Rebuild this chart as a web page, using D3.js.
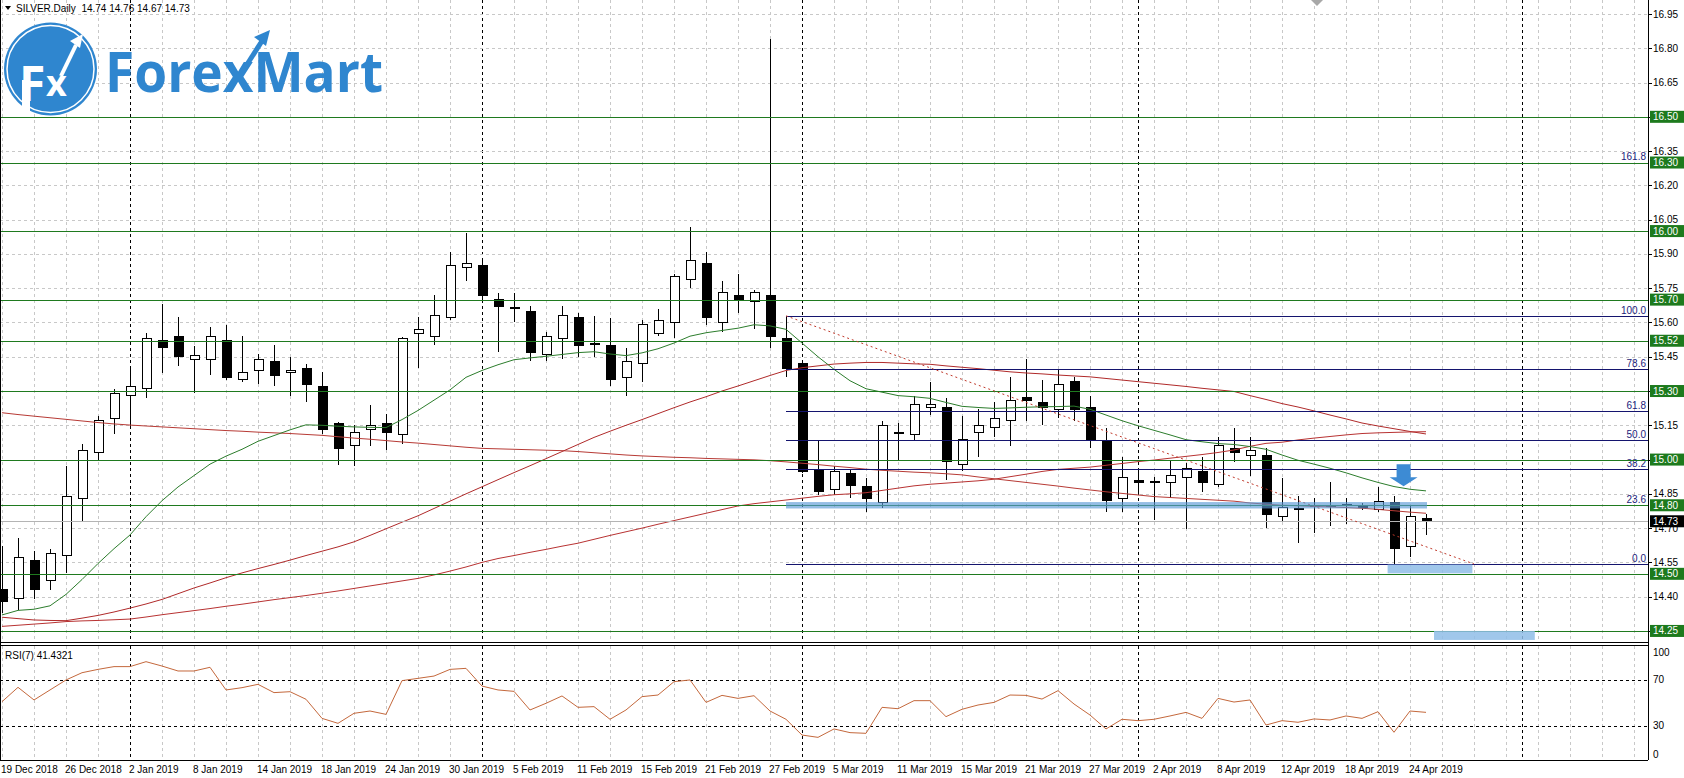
<!DOCTYPE html>
<html>
<head>
<meta charset="utf-8">
<script src="https://cdnjs.cloudflare.com/ajax/libs/d3/7.8.5/d3.min.js"></script>
<style>
  html, body { margin: 0; padding: 0; background: #fff; }
  svg { display: block; font-family: "Liberation Sans", Arial, sans-serif; }
</style>
</head>
<body>
<div class="container"></div>
<script>
// daily candles, 19 Dec 2018 .. 25 Apr 2019 (one value per bar)
const opens  = [14.43,14.39,14.56,14.47,14.58,14.83,15.03,15.18,15.28,15.31,15.52,15.54,15.44,15.44,15.52,15.35,15.39,15.43,15.38,15.40,
                15.32,15.16,15.06,15.13,15.16,15.11,15.55,15.54,15.62,15.84,15.85,15.70,15.665,15.65,15.46,15.53,15.62,15.51,15.50,15.36,
                15.42,15.55,15.60,15.79,15.86,15.60,15.72,15.69,15.72,15.53,15.42,14.955,14.87,14.94,14.88,14.81,15.12,15.11,15.23,15.23,
                14.98,15.12,15.14,15.17,15.27,15.25,15.22,15.34,15.23,15.08,14.83,14.91,14.905,14.90,14.92,14.95,14.89,15.05,15.02,15.02,
                14.75,14.785,14.80,14.80,14.805,14.80,14.78,14.81,14.62,14.74];
const highs  = [14.62,14.655,14.60,14.61,14.97,15.07,15.19,15.31,15.41,15.555,15.68,15.625,15.495,15.58,15.59,15.54,15.46,15.50,15.45,15.42,
                15.385,15.165,15.15,15.24,15.20,15.535,15.625,15.72,15.91,15.99,15.88,15.73,15.73,15.67,15.56,15.67,15.64,15.63,15.62,15.49,
                15.61,15.66,15.81,16.02,15.91,15.78,15.81,15.74,16.84,15.629,15.43,15.08,14.97,14.955,14.92,15.17,15.16,15.28,15.34,15.27,
                15.19,15.22,15.25,15.36,15.44,15.35,15.39,15.36,15.28,15.14,15.01,14.96,14.925,15.00,14.985,15.01,15.10,15.14,15.10,15.05,
                14.92,14.84,14.83,14.90,14.83,14.81,14.88,14.84,14.80,14.76];
const lows   = [14.33,14.34,14.39,14.43,14.505,14.73,15.00,15.11,15.14,15.27,15.38,15.41,15.29,15.37,15.35,15.34,15.33,15.32,15.28,15.25,
                15.11,14.975,14.97,15.06,15.04,15.07,15.40,15.50,15.61,15.78,15.70,15.47,15.60,15.43,15.43,15.44,15.45,15.45,15.32,15.28,
                15.34,15.54,15.53,15.75,15.59,15.56,15.64,15.57,15.49,15.36,14.94,14.845,14.845,14.83,14.77,14.79,15.00,15.08,15.195,14.91,
                14.95,15.01,15.10,15.06,15.17,15.15,15.18,15.17,15.05,14.77,14.77,14.85,14.735,14.83,14.695,14.86,14.88,14.99,14.93,14.70,
                14.73,14.635,14.68,14.71,14.72,14.78,14.77,14.545,14.575,14.67];
const closes = [14.38,14.57,14.43,14.59,14.84,15.04,15.17,15.29,15.32,15.53,15.49,15.45,15.455,15.54,15.36,15.38,15.44,15.37,15.39,15.33,
                15.13,15.05,15.12,15.15,15.12,15.53,15.57,15.63,15.85,15.86,15.72,15.67,15.66,15.47,15.54,15.63,15.50,15.505,15.35,15.43,
                15.59,15.61,15.80,15.87,15.62,15.73,15.70,15.73,15.54,15.40,14.95,14.86,14.95,14.885,14.83,15.15,15.115,15.24,15.24,14.99,
                15.09,15.15,15.18,15.26,15.259,15.23,15.33,15.22,15.09,14.82,14.92,14.90,14.905,14.93,14.96,14.90,15.06,15.03,15.04,14.76,
                14.79,14.78,14.80,14.80,14.797,14.79,14.815,14.61,14.75,14.73];

// moving averages
const maGreen = [14.32,14.34,14.345,14.36,14.41,14.475,14.545,14.61,14.67,14.75,14.82,14.88,14.93,14.98,15.015,15.045,15.08,15.105,15.13,15.152,
                 15.15,15.146,15.143,15.141,15.14,15.175,15.215,15.26,15.305,15.36,15.39,15.415,15.437,15.445,15.452,15.46,15.468,15.472,15.462,15.455,
                 15.467,15.485,15.51,15.54,15.555,15.565,15.575,15.59,15.585,15.57,15.51,15.45,15.395,15.345,15.31,15.295,15.28,15.275,15.268,15.25,
                 15.233,15.228,15.224,15.226,15.229,15.231,15.232,15.234,15.22,15.195,15.17,15.148,15.128,15.108,15.087,15.078,15.07,15.066,15.057,15.045,
                 15.02,14.997,14.98,14.962,14.942,14.92,14.90,14.882,14.87,14.863];
const maLong  = [15.205,15.197,15.19,15.183,15.176,15.169,15.162,15.156,15.151,15.147,15.143,15.139,15.135,15.131,15.127,15.124,15.12,15.117,15.114,15.11,
                 15.106,15.10,15.094,15.089,15.083,15.077,15.072,15.066,15.06,15.054,15.049,15.047,15.045,15.043,15.041,15.039,15.035,15.03,15.025,15.02,
                 15.016,15.013,15.01,15.008,15.005,15.003,15.001,14.999,14.995,14.99,14.984,14.978,14.971,14.965,14.958,14.953,14.949,14.945,14.942,14.938,
                 14.933,14.924,14.916,14.908,14.90,14.892,14.884,14.875,14.867,14.859,14.852,14.845,14.838,14.834,14.83,14.826,14.822,14.818,14.81,14.805,
                 14.80,14.798,14.795,14.793,14.79,14.787,14.782,14.776,14.77,14.765];
const maMid   = [14.31,14.304,14.298,14.296,14.295,14.306,14.318,14.333,14.35,14.368,14.388,14.413,14.438,14.46,14.483,14.504,14.523,14.541,14.56,14.58,
                 14.599,14.618,14.64,14.668,14.697,14.726,14.754,14.786,14.818,14.85,14.881,14.912,14.943,14.973,15.004,15.035,15.066,15.097,15.124,15.15,
                 15.175,15.201,15.227,15.252,15.275,15.30,15.322,15.345,15.368,15.39,15.402,15.41,15.418,15.422,15.425,15.425,15.422,15.419,15.417,15.41,
                 15.404,15.398,15.391,15.384,15.379,15.375,15.37,15.366,15.362,15.355,15.348,15.341,15.334,15.327,15.32,15.312,15.305,15.298,15.28,15.263,
                 15.245,15.23,15.213,15.195,15.178,15.16,15.147,15.135,15.123,15.112];
const maSlow  = [14.27,14.275,14.28,14.285,14.291,14.294,14.296,14.299,14.302,14.311,14.321,14.33,14.339,14.348,14.358,14.367,14.377,14.387,14.396,14.405,
                 14.415,14.425,14.436,14.447,14.458,14.469,14.48,14.495,14.512,14.53,14.55,14.567,14.58,14.594,14.607,14.621,14.634,14.651,14.668,14.684,
                 14.70,14.717,14.733,14.749,14.765,14.781,14.797,14.807,14.815,14.823,14.831,14.839,14.846,14.85,14.855,14.865,14.875,14.885,14.892,14.897,
                 14.902,14.907,14.914,14.925,14.936,14.948,14.957,14.962,14.967,14.975,14.983,14.991,14.998,15.006,15.014,15.022,15.031,15.042,15.058,15.071,
                 15.076,15.086,15.094,15.101,15.108,15.114,15.117,15.119,15.121,15.122];

// RSI(7)
const rsi = [50.7,63.2,52.2,60.9,69.6,75.9,78.8,81.2,81.2,85.5,81.7,77.4,77.4,80.6,60.9,62.9,65.8,58.6,59.4,52.8,
             36.2,31.9,40.6,42.6,39.7,69.0,71.0,73.0,78.8,79.7,64.3,60.9,59.7,43.5,49.3,55.7,45.8,46.4,35.4,43.5,
             55.1,56.5,68.1,69.6,50.1,56.2,53.6,55.9,42.6,35.4,21.7,19.7,27.0,23.8,23.2,45.8,44.6,51.6,51.6,37.7,
             44.1,47.8,50.1,56.5,56.2,53.0,60.3,48.7,39.1,27.0,35.4,34.2,35.4,38.3,41.4,36.2,53.6,50.4,52.2,30.4,
             34.2,32.8,35.7,34.8,38.3,36.2,42.0,24.1,42.6,41.4321];

// time axis labels, one every 4 bars starting at bar 0
const dateLabels = ["19 Dec 2018","26 Dec 2018","2 Jan 2019","8 Jan 2019","14 Jan 2019","18 Jan 2019","24 Jan 2019","30 Jan 2019",
                    "5 Feb 2019","11 Feb 2019","15 Feb 2019","21 Feb 2019","27 Feb 2019","5 Mar 2019","11 Mar 2019","15 Mar 2019",
                    "21 Mar 2019","27 Mar 2019","2 Apr 2019","8 Apr 2019","12 Apr 2019","18 Apr 2019","24 Apr 2019"];
const monthStarts = [8, 30, 50, 71, 95];

const priceTicks = [16.95,16.80,16.65,16.50,16.35,16.20,16.05,15.90,15.75,15.60,15.45,15.30,15.15,15.00,14.85,14.70,14.55,14.40,14.25];
const levels = [16.50,16.30,16.00,15.70,15.52,15.30,15.00,14.80,14.50,14.25];
const rsiTicks = [100, 70, 30, 0];
const rsiLevels = [70, 30];

// fibonacci retracement drawn from the 28 Feb high
const fibLevels = [0.0, 23.6, 38.2, 50.0, 61.8, 78.6, 100.0, 161.8];
const fibLow = 14.543, fibHigh = 15.629;
const fibStartBar = 49, fibEndBar = 92;

const lastPrice = 14.73;

const W = 1684, H = 778;
const axisX = 1648;
const mainBottom = 642;
const rsiTop = 646, rsiBottom = 760;

const x = d3.scaleLinear().domain([0, 1]).range([2, 18]);
const y = d3.scaleLinear().domain([14.25, 16.95]).range([630.95, 14]);
const yR = d3.scaleLinear().domain([0, 100]).range([rsiBottom, rsiTop - 1]);

const svg = d3.select("div.container").append("svg")
    .attr("width", W).attr("height", H)
    .attr("viewBox", `0 0 ${W} ${H}`);

const defs = svg.append("defs");
defs.append("clipPath").attr("id", "clipMain")
    .append("rect").attr("x", 0).attr("y", 0).attr("width", axisX).attr("height", mainBottom);
defs.append("clipPath").attr("id", "clipRsi")
    .append("rect").attr("x", 0).attr("y", rsiTop).attr("width", axisX).attr("height", rsiBottom - rsiTop);

const main = svg.append("g").attr("clip-path", "url(#clipMain)");
const lower = svg.append("g").attr("clip-path", "url(#clipRsi)");

//grid
const gridBars = d3.range(0, 104, 2);
[[main, 0, mainBottom], [lower, rsiTop, rsiBottom]].forEach(([g, y0, y1]) => {
    g.selectAll("line.vgrid").data(gridBars).enter().append("line")
        .attr("class", "vgrid")
        .attr("x1", d => x(d) + 0.5).attr("x2", d => x(d) + 0.5)
        .attr("y1", y0).attr("y2", y1)
        .attr("stroke", "#c8c8c8").attr("stroke-dasharray", "3,3");
    g.selectAll("line.msep").data(monthStarts).enter().append("line")
        .attr("class", "msep")
        .attr("x1", d => x(d) + 0.5).attr("x2", d => x(d) + 0.5)
        .attr("y1", y0).attr("y2", y1)
        .attr("stroke", "#000").attr("stroke-dasharray", "3,3");
});
main.selectAll("line.hgrid").data(priceTicks).enter().append("line")
    .attr("x1", 0).attr("x2", axisX)
    .attr("y1", d => Math.round(y(d)) + 0.5).attr("y2", d => Math.round(y(d)) + 0.5)
    .attr("stroke", "#c8c8c8").attr("stroke-dasharray", "3,3");

//candles
const bars = closes.map((c, i) => ({ i, o: opens[i], h: highs[i], l: lows[i], c }));
const candles = main.append("g").attr("shape-rendering", "crispEdges");
candles.selectAll("line").data(bars).enter().append("line")
    .attr("x1", d => x(d.i) + 0.5).attr("x2", d => x(d.i) + 0.5)
    .attr("y1", d => y(d.h)).attr("y2", d => y(d.l))
    .attr("stroke", "#000");
candles.selectAll("rect").data(bars).enter().append("rect")
    .attr("x", d => x(d.i) - 4)
    .attr("width", 9)
    .attr("y", d => y(Math.max(d.o, d.c)))
    .attr("height", d => Math.max(1, Math.abs(y(d.o) - y(d.c))))
    .attr("fill", d => d.c >= d.o ? "#fff" : "#000")
    .attr("stroke", "#000");

//moving averages
const maLine = d3.line().x((d, i) => x(i)).y(d => y(d));
[[maLong, "#b73a35"], [maMid, "#b02a2a"], [maSlow, "#b83232"], [maGreen, "#2c7d2c"]].forEach(([s, col]) => {
    main.append("path").attr("d", maLine(s))
        .attr("fill", "none").attr("stroke", col).attr("stroke-width", 1);
});

//horizontal levels and fibonacci (the 161.8 line sits under the 16.30 level)
const fibY = f => y(fibLow + (fibHigh - fibLow) * f / 100);
main.selectAll("line.fib").data(fibLevels.filter(d => d <= 100)).enter().append("line")
    .attr("x1", x(fibStartBar)).attr("x2", axisX)
    .attr("y1", d => Math.round(fibY(d)) + 0.5).attr("y2", d => Math.round(fibY(d)) + 0.5)
    .attr("stroke", "#14146e").attr("stroke-width", 1);
main.selectAll("text.fib").data(fibLevels).enter().append("text")
    .attr("x", axisX - 2).attr("y", d => fibY(d) - 2)
    .attr("text-anchor", "end")
    .attr("font-size", "10px").attr("fill", "#1c1c7a")
    .text(d => d.toFixed(1));
main.selectAll("line.level").data(levels).enter().append("line")
    .attr("x1", 0).attr("x2", axisX)
    .attr("y1", d => Math.round(y(d)) + 0.5).attr("y2", d => Math.round(y(d)) + 0.5)
    .attr("stroke", "#1f7a1f").attr("stroke-width", 1);
main.append("line")
    .attr("x1", 0).attr("x2", axisX)
    .attr("y1", Math.round(y(lastPrice)) + 0.5).attr("y2", Math.round(y(lastPrice)) + 0.5)
    .attr("stroke", "#b4b4b4");

//fib trend line
main.append("line")
    .attr("x1", x(fibStartBar)).attr("y1", y(fibHigh))
    .attr("x2", x(fibEndBar)).attr("y2", y(fibLow))
    .attr("stroke", "#c0392b").attr("stroke-dasharray", "2,3");

//highlighted zones
main.append("rect")
    .attr("x", x(fibStartBar)).attr("width", x(89) + 1 - x(fibStartBar))
    .attr("y", y(14.814)).attr("height", y(14.786) - y(14.814))
    .attr("fill", "#5b9ad6").attr("opacity", 0.65);
main.append("rect")
    .attr("x", x(86.6)).attr("width", x(91.9) - x(86.6))
    .attr("y", y(14.543) + 0.5).attr("height", y(14.50) - y(14.543) - 1)
    .attr("fill", "#8fbde8").attr("opacity", 0.85);
main.append("rect")
    .attr("x", x(89.5)).attr("width", x(95.8) - x(89.5))
    .attr("y", y(14.25)).attr("height", 9)
    .attr("fill", "#8fbde8").attr("opacity", 0.85);

//blue arrow over the last candles
const ax = x(87.6), ay = y(14.98);
main.append("path")
    .attr("d", `M${ax - 7},${ay} h14 v13 h7 l-14,9 l-14,-9 h7 z`)
    .attr("fill", "#3d8bd4");

//rsi
lower.selectAll("line.lvl").data(rsiLevels).enter().append("line")
    .attr("x1", 0).attr("x2", axisX)
    .attr("y1", d => Math.round(yR(d)) + 0.5).attr("y2", d => Math.round(yR(d)) + 0.5)
    .attr("stroke", "#000").attr("stroke-dasharray", "3,3");
lower.append("path")
    .attr("d", d3.line().x((d, i) => x(i)).y(d => yR(d))(rsi))
    .attr("fill", "none").attr("stroke", "#c4683c").attr("stroke-width", 1);
svg.append("text")
    .attr("x", 5).attr("y", 659)
    .attr("font-size", "10px").attr("fill", "#000")
    .text(`RSI(7) ${rsi[rsi.length - 1].toFixed(4)}`);

//frames
const frame = svg.append("g").attr("stroke", "#000").attr("shape-rendering", "crispEdges");
frame.append("line").attr("x1", 0.5).attr("x2", 0.5).attr("y1", 0).attr("y2", rsiBottom);
frame.append("line").attr("x1", axisX + 0.5).attr("x2", axisX + 0.5).attr("y1", 0).attr("y2", rsiBottom);
frame.append("line").attr("x1", 0).attr("x2", axisX).attr("y1", mainBottom + 0.5).attr("y2", mainBottom + 0.5);
frame.append("line").attr("x1", 0).attr("x2", axisX).attr("y1", rsiTop - 0.5).attr("y2", rsiTop - 0.5);
frame.append("line").attr("x1", 0).attr("x2", axisX).attr("y1", rsiBottom + 0.5).attr("y2", rsiBottom + 0.5);

//price axis
const axis = svg.append("g").attr("font-size", "10px");
axis.selectAll("line").data(priceTicks).enter().append("line")
    .attr("x1", axisX).attr("x2", axisX + 4)
    .attr("y1", d => Math.round(y(d)) + 0.5).attr("y2", d => Math.round(y(d)) + 0.5)
    .attr("stroke", "#000");
axis.selectAll("text.tick").data(priceTicks).enter().append("text")
    .attr("x", axisX + 5).attr("y", d => y(d)).attr("dy", "0.35em")
    .text(d => d.toFixed(2));
const boxes = axis.selectAll("g.box").data(levels).enter().append("g");
boxes.append("rect")
    .attr("x", axisX + 2).attr("width", W - axisX - 2)
    .attr("y", d => y(d) - 6).attr("height", 12)
    .attr("fill", "#1d7a1d");
boxes.append("text")
    .attr("x", axisX + 5).attr("y", d => y(d)).attr("dy", "0.35em")
    .attr("fill", "#fff")
    .text(d => d.toFixed(2));
axis.append("rect")
    .attr("x", axisX + 2).attr("width", W - axisX - 2)
    .attr("y", y(lastPrice) - 6).attr("height", 12)
    .attr("fill", "#000");
axis.append("text")
    .attr("x", axisX + 5).attr("y", y(lastPrice)).attr("dy", "0.35em")
    .attr("fill", "#fff")
    .text(lastPrice.toFixed(2));
axis.selectAll("text.rtick").data(rsiTicks).enter().append("text")
    .attr("x", axisX + 5)
    .attr("y", d => d === 100 ? 652 : d === 0 ? 754 : yR(d))
    .attr("dy", "0.35em")
    .text(d => d);

//time axis
svg.append("g").attr("font-size", "10px")
    .selectAll("text").data(dateLabels).enter().append("text")
    .attr("x", (d, i) => x(i * 4) - 1)
    .attr("y", 773)
    .text(d => d);

//shift marker at the top
svg.append("path")
    .attr("d", "M1311,0 L1323,0 L1317,6 Z")
    .attr("fill", "#a8a8a8");

//symbol header
svg.append("path").attr("d", "M5,6 L11,6 L8,10 Z").attr("fill", "#000");
svg.append("text")
    .attr("x", 16).attr("y", 12)
    .attr("font-size", "10px")
    .style("white-space", "pre")
    .text(`SILVER.Daily  ${opens[89].toFixed(2)} ${highs[89].toFixed(2)} ${lows[89].toFixed(2)} ${closes[89].toFixed(2)}`);

//logo
const logo = svg.append("g");
const blue = "#2f86cf";
logo.append("circle").attr("cx", 50.5).attr("cy", 69).attr("r", 46.5).attr("fill", blue);
logo.append("circle").attr("cx", 50.5).attr("cy", 69).attr("r", 43.5)
    .attr("fill", "none").attr("stroke", "#fff").attr("stroke-width", 1.5);
logo.append("rect").attr("x", 22).attr("y", 80).attr("width", 8).attr("height", 31).attr("fill", "#fff");
logo.append("text").attr("x", 19).attr("y", 101)
    .attr("font-family", "Open Sans").attr("font-weight", 700).attr("font-size", "48px")
    .attr("fill", "#fff").text("F");
logo.append("text").attr("x", 46).attr("y", 96)
    .attr("font-family", "Open Sans").attr("font-weight", 700).attr("font-size", "36px")
    .attr("fill", "#fff").text("x");
logo.append("line").attr("x1", 61).attr("y1", 76).attr("x2", 76).attr("y2", 45)
    .attr("stroke", "#fff").attr("stroke-width", 4);
logo.append("path").attr("d", "M83,34 L70,41 L80,48 Z").attr("fill", "#fff");
logo.append("text").attr("x", 105).attr("y", 92)
    .attr("font-family", "Open Sans").attr("font-weight", 700).attr("font-size", "55px")
    .attr("textLength", 278).attr("lengthAdjust", "spacingAndGlyphs")
    .attr("fill", blue).text("ForexMart");
logo.append("line").attr("x1", 246).attr("y1", 66).attr("x2", 262).attr("y2", 41)
    .attr("stroke", blue).attr("stroke-width", 5);
logo.append("path").attr("d", "M270,30 L254,37 L266,46 Z").attr("fill", blue);
</script>
</body>
</html>
